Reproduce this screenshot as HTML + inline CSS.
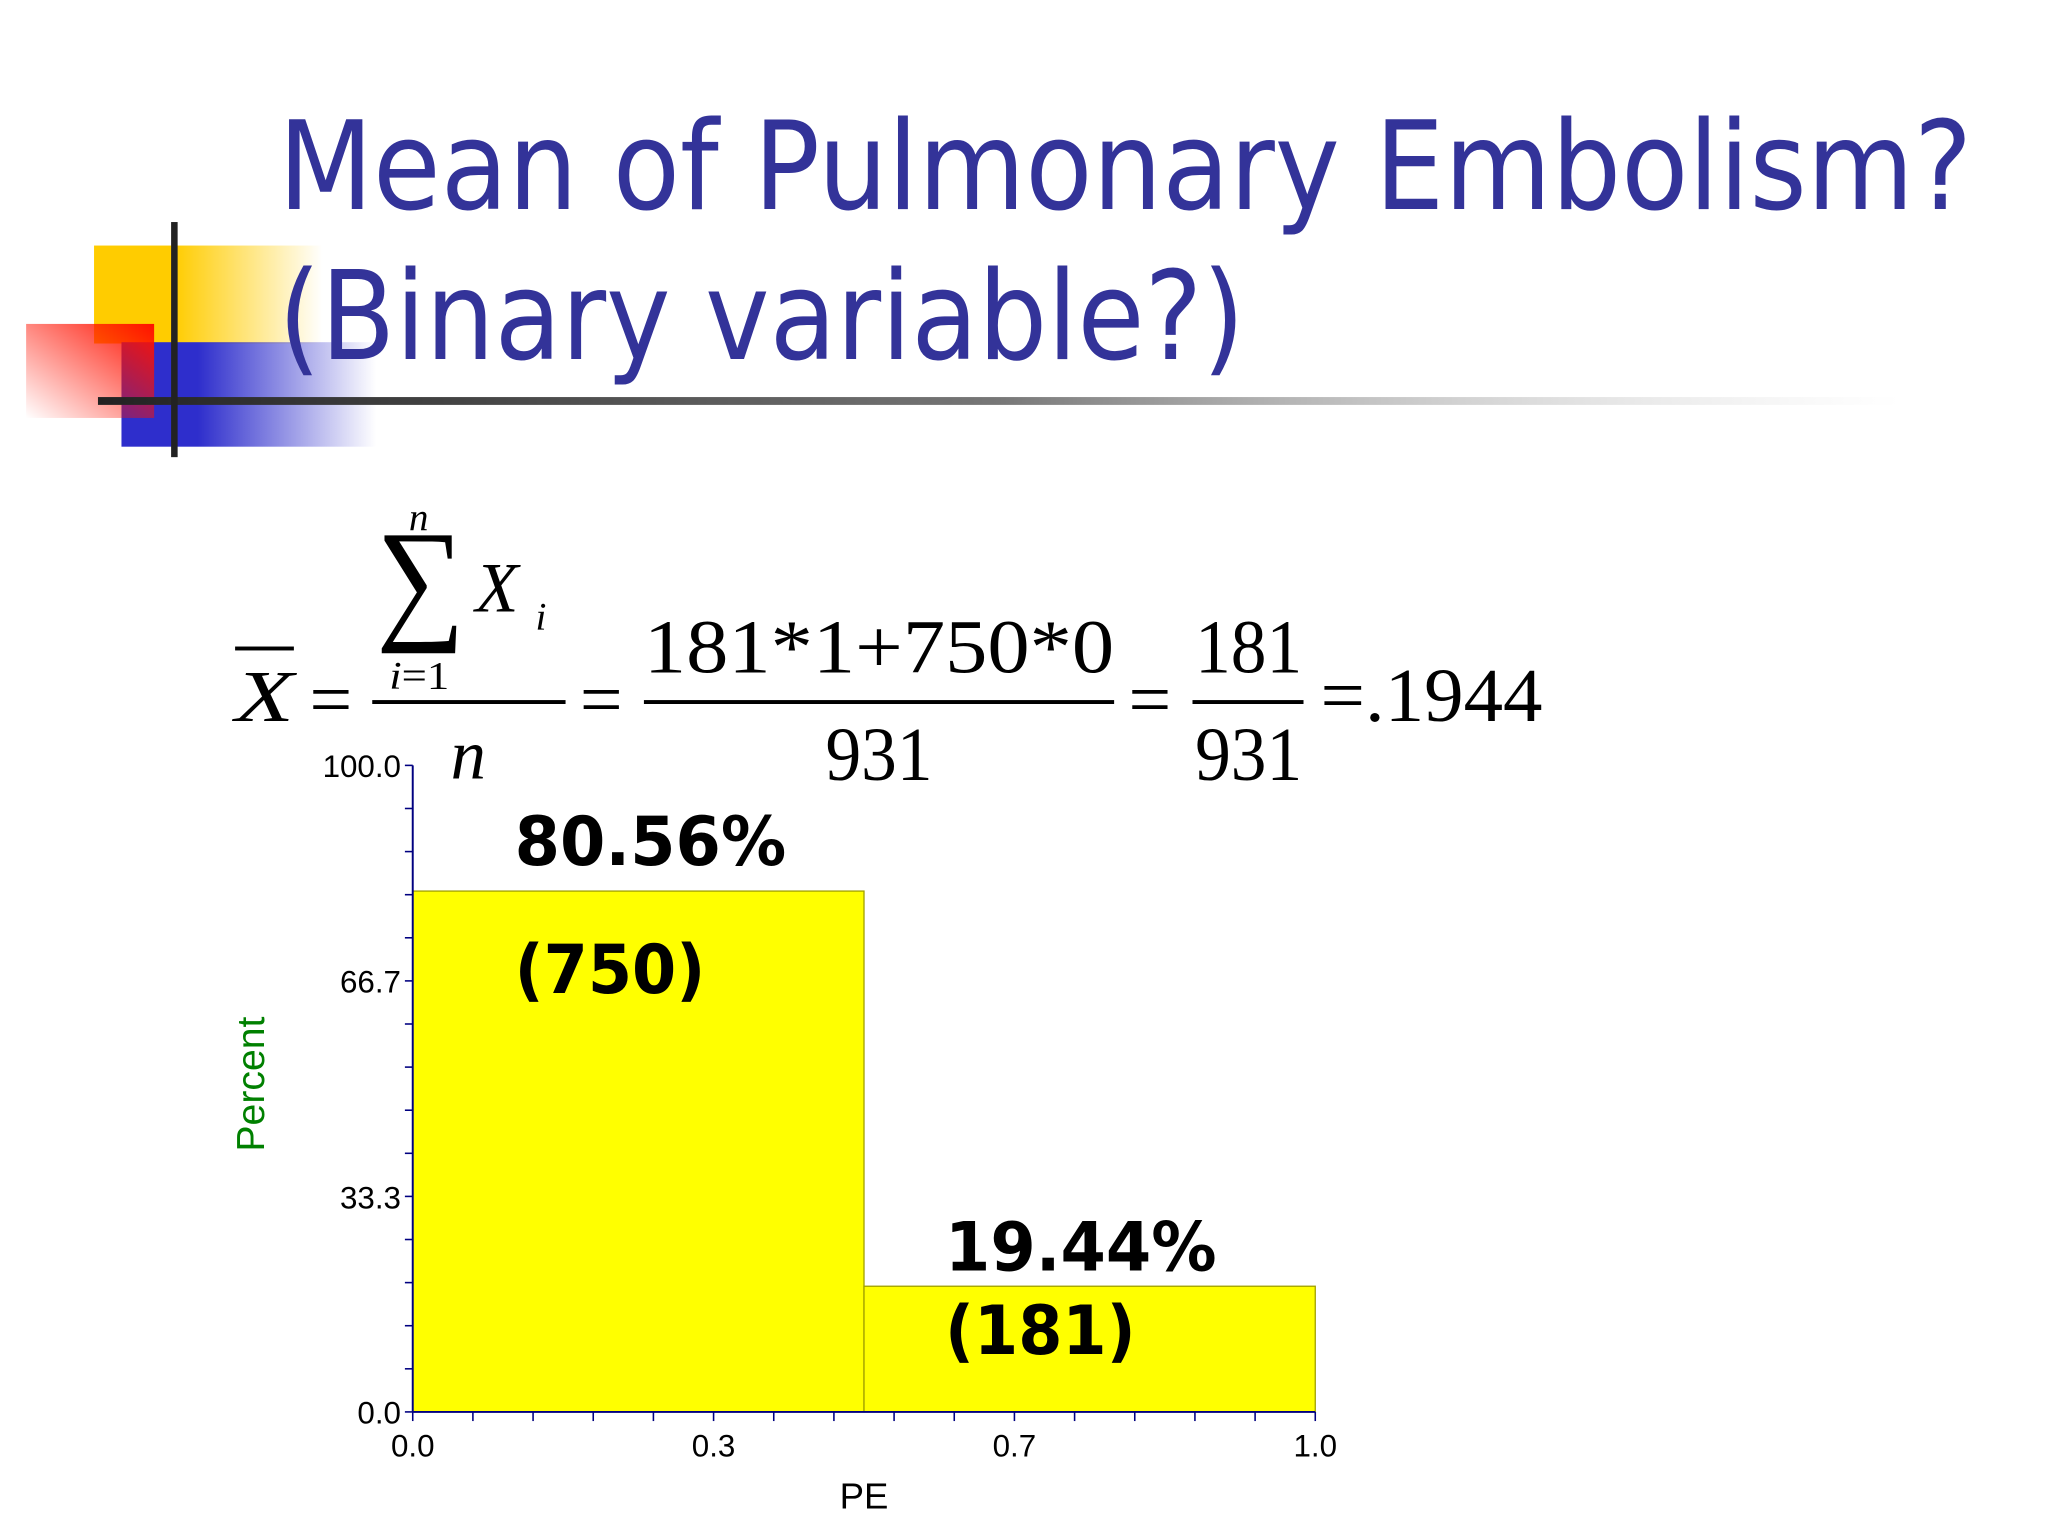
<!DOCTYPE html>
<html><head><meta charset="utf-8"><style>html,body{margin:0;padding:0;background:#fff;}svg{display:block}</style></head>
<body>
<svg id="chart" xmlns="http://www.w3.org/2000/svg" width="2048" height="1536" viewBox="0 0 1568 1176">
<defs>
<linearGradient id="gy" x1="0" x2="1"><stop offset="0.35" stop-color="#ffcc00"/><stop offset="1" stop-color="#ffcc00" stop-opacity="0"/></linearGradient>
<linearGradient id="gr" x1="1" y1="0" x2="0" y2="1"><stop offset="0" stop-color="#ff1100"/><stop offset="1" stop-color="#ff1100" stop-opacity="0"/></linearGradient>
<linearGradient id="gb" x1="0" x2="1"><stop offset="0.3" stop-color="#2e2ecc"/><stop offset="1" stop-color="#2e2ecc" stop-opacity="0"/></linearGradient>
<linearGradient id="gl" x1="0" x2="1"><stop offset="0" stop-color="#222"/><stop offset="0.5" stop-color="#777"/><stop offset="1" stop-color="#ccc" stop-opacity="0"/></linearGradient>
</defs>
<g>
<rect x="72" y="188" width="175" height="75" fill="url(#gy)"/>
<rect x="93" y="262" width="195" height="80" fill="url(#gb)"/>
<rect x="20" y="248" width="98" height="72" fill="url(#gr)"/>
<rect x="75" y="304" width="1380" height="6" fill="url(#gl)"/>
<rect x="131" y="170" width="5" height="180" fill="#222"/>
</g>
<g font-family="DejaVu Sans, Liberation Sans, sans-serif" fill="#333399" font-size="94">
<text x="213" y="160" textLength="1297" lengthAdjust="spacingAndGlyphs">Mean of Pulmonary Embolism?</text>
<text x="213" y="275" textLength="740" lengthAdjust="spacingAndGlyphs">(Binary variable?)</text>
</g>
<g font-family="Liberation Serif, serif" fill="#000">
<text x="180" y="552" font-size="56" font-style="italic" textLength="45" lengthAdjust="spacingAndGlyphs">X</text>
<rect x="180" y="495" width="45" height="3"/>
<text x="237" y="555" font-size="58">=</text>
<text x="288" y="478" font-size="104" textLength="68" lengthAdjust="spacingAndGlyphs">∑</text>
<text x="313" y="406" font-size="30" font-style="italic">n</text>
<text x="298" y="527" font-size="30" textLength="46" lengthAdjust="spacingAndGlyphs"><tspan font-style="italic">i</tspan>=1</text>
<text x="364" y="468" font-size="54" font-style="italic">X</text>
<text x="410" y="482" font-size="30" font-style="italic">i</text>
<rect x="285" y="536" width="148" height="3"/>
<text x="345" y="596" font-size="54" font-style="italic">n</text>
<text x="444" y="555" font-size="58">=</text>
<text x="493" y="515" font-size="58" textLength="360" lengthAdjust="spacingAndGlyphs">181*1+750*0</text>
<rect x="493" y="536" width="360" height="3"/>
<text x="673" y="597" font-size="58" text-anchor="middle" textLength="82" lengthAdjust="spacingAndGlyphs">931</text>
<text x="864" y="555" font-size="58">=</text>
<text x="956" y="515" font-size="58" text-anchor="middle" textLength="82" lengthAdjust="spacingAndGlyphs">181</text>
<rect x="913" y="536" width="85" height="3"/>
<text x="956" y="597" font-size="58" text-anchor="middle" textLength="82" lengthAdjust="spacingAndGlyphs">931</text>
<text x="1011" y="552" font-size="58" textLength="170" lengthAdjust="spacingAndGlyphs">=.1944</text>
</g>
<g id="plot"></g>
</svg>
<script>
const categories = ["0", "1"];
const binEdges = [0, 0.5, 1.0];
const percents = [80.56, 19.44];
const counts = [750, 181];
const yTickVals = [0, 33.3, 66.7, 100];
const yTickLabels = ["0.0", "33.3", "66.7", "100.0"];
const xTickVals = [0, 1/3, 2/3, 1];
const xTickLabels = ["0.0", "0.3", "0.7", "1.0"];

const NS = "http://www.w3.org/2000/svg";
const X0 = 316, X1 = 1007, Y0 = 1081, Y1 = 586;
const sx = v => X0 + (v - 0) / (1 - 0) * (X1 - X0);
const sy = v => Y0 - v / 100 * (Y0 - Y1);
const plot = document.getElementById('plot');
function mk(tag, attrs, parent) {
  const e = document.createElementNS(NS, tag);
  for (const k in attrs) e.setAttribute(k, attrs[k]);
  (parent || plot).appendChild(e);
  return e;
}
percents.forEach((p, i) => {
  const r = mk('rect', {x: sx(binEdges[i]), y: sy(p), width: sx(binEdges[i+1]) - sx(binEdges[i]), height: sy(0) - sy(p), fill: '#ffff00', stroke: '#a0a000', 'stroke-width': 1});
  
  
  const lx = sx(binEdges[i]) + 78 + (i === 1 ? -16 : 0);
  const t1 = mk('text', {x: lx, y: i === 0 ? sy(p) - 20 : sy(p) - 12, 'font-family': 'DejaVu Sans, sans-serif', 'font-weight': 'bold', 'font-size': 52, fill: '#000', textLength: 208, lengthAdjust: 'spacingAndGlyphs'});
  t1.textContent = p.toFixed(2) + '%';
  
  
  const t2 = mk('text', {x: lx, y: i === 0 ? sy(p) + 78 : sy(p) + 52, 'font-family': 'DejaVu Sans, sans-serif', 'font-weight': 'bold', 'font-size': 52, fill: '#000', textLength: 146, lengthAdjust: 'spacingAndGlyphs'});
  t2.textContent = '(' + counts[i] + ')';
  
  
});
const ya = mk('line', {x1: X0, y1: Y1, x2: X0, y2: Y0, stroke: '#000080', 'stroke-width': 1.5});


const xa = mk('line', {x1: X0, y1: Y0, x2: X1, y2: Y0, stroke: '#000080', 'stroke-width': 1.5});


for (let k = 0; k <= 15; k++) {
  const v = 100 * k / 15;
  mk('line', {x1: X0 - 6, y1: sy(v), x2: X0, y2: sy(v), stroke: '#000080', 'stroke-width': 1.2});
  const xv = k / 15;
  mk('line', {x1: sx(xv), y1: Y0, x2: sx(xv), y2: Y0 + 7, stroke: '#000080', 'stroke-width': 1.2});
}
yTickVals.forEach((v, i) => {
  const t = mk('text', {x: X0 - 9, y: sy(v) + 9, 'text-anchor': 'end', 'font-family': 'Liberation Sans, sans-serif', 'font-size': 24, fill: '#000'});
  t.textContent = yTickLabels[i];
  
  
});
xTickVals.forEach((v, i) => {
  const t = mk('text', {x: sx(v), y: Y0 + 34, 'text-anchor': 'middle', 'font-family': 'Liberation Sans, sans-serif', 'font-size': 24, fill: '#000'});
  t.textContent = xTickLabels[i];
  
  
});
const xt = mk('text', {x: (X0 + X1) / 2, y: Y0 + 74, 'text-anchor': 'middle', 'font-family': 'Liberation Sans, sans-serif', 'font-size': 28, fill: '#000'});
xt.textContent = 'PE';


const yt = mk('text', {x: 0, y: 0, transform: 'translate(202,830) rotate(-90)', 'text-anchor': 'middle', 'font-family': 'Liberation Sans, sans-serif', 'font-size': 30, fill: '#008000'});
yt.textContent = 'Percent';


</script>
</body></html>
